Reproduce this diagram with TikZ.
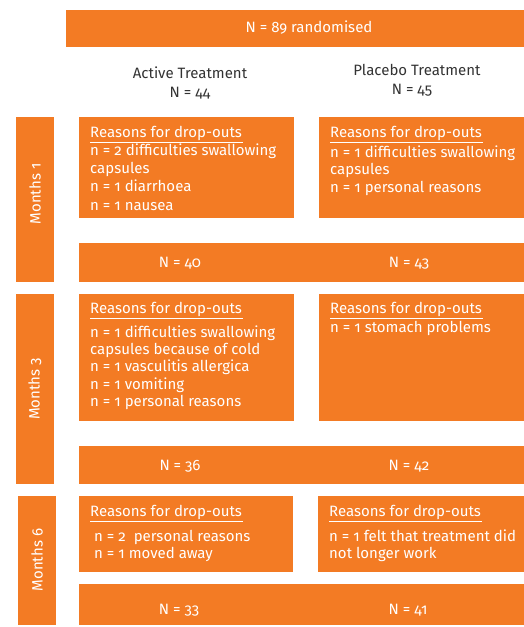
\documentclass[tikz,border=0pt]{standalone}
\usepackage{fontspec}
\setmainfont{Fira Sans}[Numbers=OldStyle]
\definecolor{orng}{HTML}{F37B24}
\definecolor{dark}{HTML}{333333}
\begin{document}
\begin{tikzpicture}[x=1pt,y=-1pt,
  box/.style={fill=orng,draw=none,anchor=north west,inner sep=0pt,minimum width=#1},
  wt/.style={text=white,font=\fontsize{15}{18}\selectfont,inner sep=0pt,anchor=base west},
  wc/.style={text=white,font=\fontsize{15}{18}\selectfont,inner sep=0pt,anchor=base},
  hd/.style={text=dark,font=\fontsize{15}{18}\selectfont,inner sep=0pt,anchor=base},
  side/.style={text=white,font=\fontsize{15}{18}\selectfont,inner sep=0pt,rotate=90},
  ul/.style={draw=white,line width=0.9pt}]
\useasboundingbox (0,0) rectangle (524,627);
% top
\node[box=458pt,minimum height=37pt] (top) at (66,10) {};
\node[wc] (toptxt) at (309,32) {N = 89 randomised};
\node[hd] (act) at (190,78) {Active Treatment};
\node[hd] (actn) at (190,97) {N = 44};
\node[hd] (pla) at (417,75) {Placebo Treatment};
\node[hd] (plan) at (412,94) {N = 45};
% month 1
\node[box=38pt,minimum height=165pt] (s1) at (16,117) {};
\node[side] (s1t) at (35,194) {Months 1};
\node[box=215pt,minimum height=101pt] (a1) at (79,117) {};
\node[box=205pt,minimum height=101pt] (p1) at (319,117) {};
\node[box=445pt,minimum height=39pt] (n1) at (79,243) {};
\node[wt] (a1h) at (90,137) {Reasons for drop-outs};
\draw[ul] ([yshift=-5pt]a1h.base west) -- ([xshift=1pt,yshift=-5pt]a1h.base east);
\node[wt] (a1a) at (90,155) {n = 2 difficulties swallowing};
\node[wt] (a1b) at (90,173) {capsules};
\node[wt] (a1c) at (90,191) {n = 1 diarrhoea};
\node[wt] (a1d) at (90,210) {n = 1 nausea};
\node[wt] (p1h) at (330,137) {Reasons for drop-outs};
\draw[ul] ([yshift=-5pt]p1h.base west) -- ([xshift=1pt,yshift=-5pt]p1h.base east);
\node[wt] (p1a) at (330,157) {n = 1 difficulties swallowing};
\node[wt] (p1b) at (330,174) {capsules};
\node[wt] (p1c) at (330,192) {n = 1 personal reasons};
\node[wc] (n1a) at (180,267) {N = 40};
\node[wc] (n1b) at (409,267) {N = 43};
% month 3
\node[box=38pt,minimum height=190pt] (s3) at (16,294) {};
\node[side] (s3t) at (35,389) {Months 3};
\node[box=215pt,minimum height=127pt] (a3) at (79,294) {};
\node[box=205pt,minimum height=127pt] (p3) at (319,294) {};
\node[box=445pt,minimum height=38pt] (n3) at (79,446) {};
\node[wt] (a3h) at (90,313) {Reasons for drop-outs};
\draw[ul] ([yshift=-5pt]a3h.base west) -- ([xshift=1pt,yshift=-5pt]a3h.base east);
\node[wt] (a3a) at (90,337) {n = 1 difficulties swallowing};
\node[wt] (a3b) at (90,354) {capsules because of cold};
\node[wt] (a3c) at (90,371) {n = 1 vasculitis allergica};
\node[wt] (a3d) at (90,389) {n = 1 vomiting};
\node[wt] (a3e) at (90,406) {n = 1 personal reasons};
\node[wt] (p3h) at (330,313) {Reasons for drop-outs};
\draw[ul] ([yshift=-5pt]p3h.base west) -- ([xshift=1pt,yshift=-5pt]p3h.base east);
\node[wt] (p3a) at (330,332) {n = 1 stomach problems};
\node[wc] (n3a) at (180,470) {N = 36};
\node[wc] (n3b) at (409,470) {N = 42};
% month 6
\node[box=38pt,minimum height=129pt] (s6) at (18,496) {};
\node[side] (s6t) at (37,560) {Months 6};
\node[box=214pt,minimum height=76pt] (a6) at (79,496) {};
\node[box=206pt,minimum height=76pt] (p6) at (318,496) {};
\node[box=445pt,minimum height=41pt] (n6) at (79,584) {};
\node[wt] (a6h) at (90,516) {Reasons for drop-outs};
\draw[ul] ([yshift=-5pt]a6h.base west) -- ([xshift=1pt,yshift=-5pt]a6h.base east);
\node[wt] (a6a) at (94,541) {n = 2\ \ personal reasons};
\node[wt] (a6b) at (94,558) {n = 1 moved away};
\node[wt] (p6h) at (329,516) {Reasons for drop-outs};
\draw[ul] ([yshift=-5pt]p6h.base west) -- ([xshift=1pt,yshift=-5pt]p6h.base east);
\node[wt] (p6a) at (329,541) {n = 1 felt that treatment did};
\node[wt] (p6b) at (329,558) {not longer work};
\node[wc] (n6a) at (179,614) {N = 33};
\node[wc] (n6b) at (408,614) {N = 41};
\end{tikzpicture}
\end{document}
